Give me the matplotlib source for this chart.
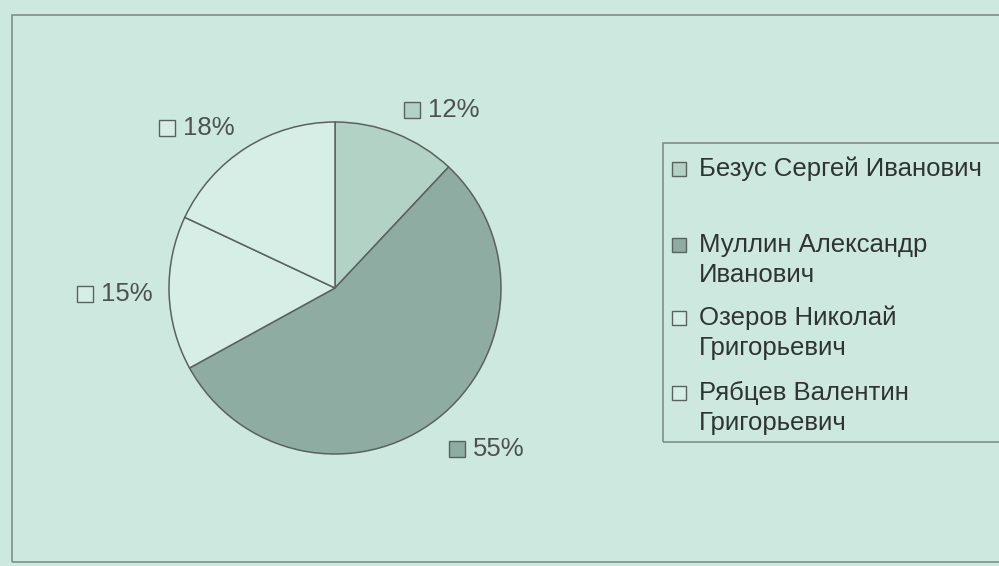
import numpy as np
import matplotlib
matplotlib.use("Agg")
import matplotlib.pyplot as plt
from matplotlib.patches import Rectangle
from matplotlib.offsetbox import AnnotationBbox, HPacker, DrawingArea, TextArea

plt.rcParams["font.family"] = ["Liberation Sans", "DejaVu Sans"]

# shares of votes per candidate
names = [
    "Безус Сергей Иванович",
    "Муллин Александр\nИванович",
    "Озеров Николай\nГригорьевич",
    "Рябцев Валентин\nГригорьевич",
]
shares = [12, 55, 15, 18]
colors = ["#b2d2c6", "#8eaca1", "#d6eee6", "#d6eee6"]

W, H = 999, 566
BG = "#cde9df"
EDGE = "#5a625f"
LINE = "#7d8f89"
FS = 18.5

fig = plt.figure(figsize=(W / 100, H / 100), dpi=100, facecolor=BG)
ax = fig.add_axes([0, 0, 1, 1])
ax.set_facecolor(BG)


def py(y):
    # pixel rows are counted from the top
    return H - y


cx, cy, R = 335, py(288), 166
wedges, _ = ax.pie(
    shares,
    colors=colors,
    startangle=90,
    counterclock=False,
    center=(cx, cy),
    radius=R,
    wedgeprops=dict(edgecolor=EDGE, linewidth=1.1),
)

# outer frame of the chart area
ax.add_patch(Rectangle((12, py(562)), 1020, 547, fill=False, ec=LINE, lw=1.2))


def marker_label(color, text):
    da = DrawingArea(11.5, 11.5, 0, 0)
    da.add_artist(Rectangle((0, 0), 11.5, 11.5, fc=color, ec=EDGE, lw=1.0))
    ta = TextArea(text, textprops=dict(size=FS, color="#4d5250"))
    return HPacker(children=[da, ta], align="center", pad=0, sep=6)


# percentage labels outside each wedge
for w, val, col in zip(wedges, shares, colors):
    ang = np.deg2rad((w.theta1 + w.theta2) / 2)
    c, s = np.cos(ang), np.sin(ang)
    r = (1.15 - 0.05 * abs(c)) * R
    x = cx + r * c
    y = cy + r * s
    bx = 0.0 if c > 0 else 1.0
    by = 0.5 + 0.75 * max(0.0, -s) - 0.15 * max(0.0, s)
    ab = AnnotationBbox(
        marker_label(col, f"{val}%"),
        (x, y),
        xycoords="data",
        box_alignment=(bx, by),
        frameon=False,
        pad=0,
    )
    ax.add_artist(ab)

# legend box drawn on the right
ax.add_patch(Rectangle((663, py(442)), 400, 299, fill=False, ec=LINE, lw=1.2))
row_y = [169, 245, 318, 393]
for name, col, ry in zip(names, colors, row_y):
    ax.add_patch(Rectangle((672, py(ry) - 7), 14, 14, fc=col, ec=EDGE, lw=1.0))
    for i, line in enumerate(name.split("\n")):
        ax.text(699, py(ry + 30 * i), line, fontsize=FS, color="#2f3432",
                va="center", ha="left")

ax.set_xlim(0, W)
ax.set_ylim(0, H)
ax.set_aspect("equal")
ax.axis("off")

fig.savefig("out.png", dpi=100, facecolor=BG)
